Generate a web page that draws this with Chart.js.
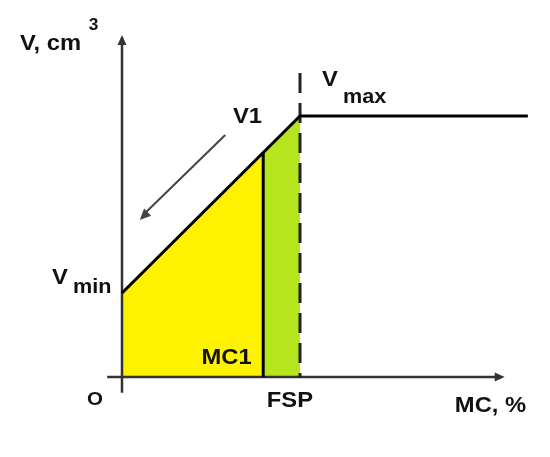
<!DOCTYPE html>
<html>
<head>
<meta charset="utf-8">
<script src="https://cdn.jsdelivr.net/npm/chart.js@4/dist/chart.umd.min.js"></script>
<style>
  html, body { margin: 0; padding: 0; background: #ffffff; }
  #wrap { width: 550px; height: 457px; }
</style>
</head>
<body>
<div id="wrap"><canvas id="c" width="550" height="457"></canvas></div>
<script>
// ---- data (moisture content MC in %, volume V in arbitrary units) ----
const mcPoints   = [0, 23.8, 30, 68.4];        // O, MC1, FSP, end of plateau
const volPoints  = [3.22, 8.62, 10, 10];       // Vmin, V1, Vmax, Vmax
const xAxisRange = [-2.5, 64.5];
const yAxisRange = [-0.6, 13.1];
const dashTop    = 11.65;
const arrowFrom  = [17.4, 9.27];
const arrowTo    = [3.0, 6.02];

// text labels in data coordinates: [text, x, y, fontSize]
const labels = [
  ['V, cm', -17.2, 12.53, 22],
  ['3', -5.6, 13.3, 16],
  ['V', 33.7, 11.15, 22],
  ['max', 37.25, 10.5, 20],
  ['V1', 18.7, 9.73, 22],
  ['V', -11.8, 3.56, 22],
  ['min', -8.26, 3.22, 20],
  ['O', -5.9, -1.07, 19],
  ['MC1', 13.4, 0.5, 22],
  ['FSP', 24.4, -1.15, 22],
  ['MC, %', 56.1, -1.34, 22]
];

const pt = (i) => ({ x: mcPoints[i], y: volPoints[i] });

const annotate = {
  id: 'annotate',
  afterDatasetsDraw(chart) {
    const ctx = chart.ctx, xs = chart.scales.x, ys = chart.scales.y;
    const px = v => xs.getPixelForValue(v), py = v => ys.getPixelForValue(v);
    function head(x1, y1, x2, y2, len, wid, color) {
      const a = Math.atan2(y2 - y1, x2 - x1);
      ctx.save();
      ctx.fillStyle = color;
      ctx.beginPath();
      ctx.moveTo(x2, y2);
      ctx.lineTo(x2 - len * Math.cos(a) + wid * Math.sin(a), y2 - len * Math.sin(a) - wid * Math.cos(a));
      ctx.lineTo(x2 - len * Math.cos(a) - wid * Math.sin(a), y2 - len * Math.sin(a) + wid * Math.cos(a));
      ctx.closePath();
      ctx.fill();
      ctx.restore();
    }
    // axis arrowheads
    head(px(0), py(0), px(0), py(yAxisRange[1]), 10, 4.5, '#333');
    head(px(0), py(0), px(xAxisRange[1]), py(0), 10, 4.5, '#333');
    // V1 arrow head
    head(px(arrowFrom[0]), py(arrowFrom[1]), px(arrowTo[0]), py(arrowTo[1]), 11, 5, '#444');
    // text (slightly wide glyphs like the reference)
    ctx.save();
    ctx.fillStyle = '#111';
    ctx.textBaseline = 'alphabetic';
    ctx.textAlign = 'left';
    labels.forEach(([t, x, y, s]) => {
      ctx.save();
      ctx.font = 'bold ' + s + 'px "Liberation Sans", Arial, sans-serif';
      ctx.translate(px(x), py(y));
      ctx.scale(1.08, 1);
      ctx.fillText(t, 0, 0);
      ctx.restore();
    });
    ctx.restore();
  }
};

const line = (data, extra) => Object.assign({
  data, showLine: true, pointRadius: 0, borderColor: '#000', borderWidth: 3,
  fill: false, tension: 0, order: 1, clip: false
}, extra);

new Chart(document.getElementById('c'), {
  type: 'line',
  data: {
    datasets: [
      // yellow area
      line([{ x: mcPoints[0], y: volPoints[0] }, pt(1)],
        { fill: 'origin', backgroundColor: '#FFF200', borderWidth: 0, borderColor: 'rgba(0,0,0,0)', order: 10 }),
      // green area
      line([pt(1), pt(2)],
        { fill: 'origin', backgroundColor: '#B5E61D', borderWidth: 0, borderColor: 'rgba(0,0,0,0)', order: 9 }),
      // axes
      line([{ x: xAxisRange[0], y: 0 }, { x: xAxisRange[1] - 1, y: 0 }], { borderColor: '#333', borderWidth: 2.5, order: 5 }),
      line([{ x: 0, y: yAxisRange[0] }, { x: 0, y: yAxisRange[1] - 0.3 }], { borderColor: '#333', borderWidth: 2.5, order: 5 }),
      // dashed FSP line
      line([{ x: mcPoints[2], y: dashTop }, { x: mcPoints[2], y: 0 }], { borderColor: '#222', borderWidth: 3, borderDash: [20, 10], order: 3 }),
      // MC1 vertical
      line([{ x: mcPoints[1], y: 0 }, pt(1)], { borderWidth: 3, order: 2 }),
      // main volume curve
      line([pt(0), pt(2), pt(3)], { borderWidth: 3, order: 1 }),
      // V1 direction arrow
      line([{ x: arrowFrom[0], y: arrowFrom[1] }, { x: arrowTo[0] + 0.6, y: arrowTo[1] + 0.2 }], { borderColor: '#444', borderWidth: 2, order: 1 })
    ]
  },
  options: {
    responsive: false,
    animation: false,
    layout: { padding: 0 },
    plugins: { legend: { display: false }, tooltip: { enabled: false } },
    scales: {
      x: { type: 'linear', display: false, min: -122 / (178 / 30), max: (550 - 122) / (178 / 30) },
      y: { type: 'linear', display: false, min: (377 - 457) / 26.1, max: 377 / 26.1 }
    }
  },
  plugins: [annotate]
});
</script>
</body>
</html>
